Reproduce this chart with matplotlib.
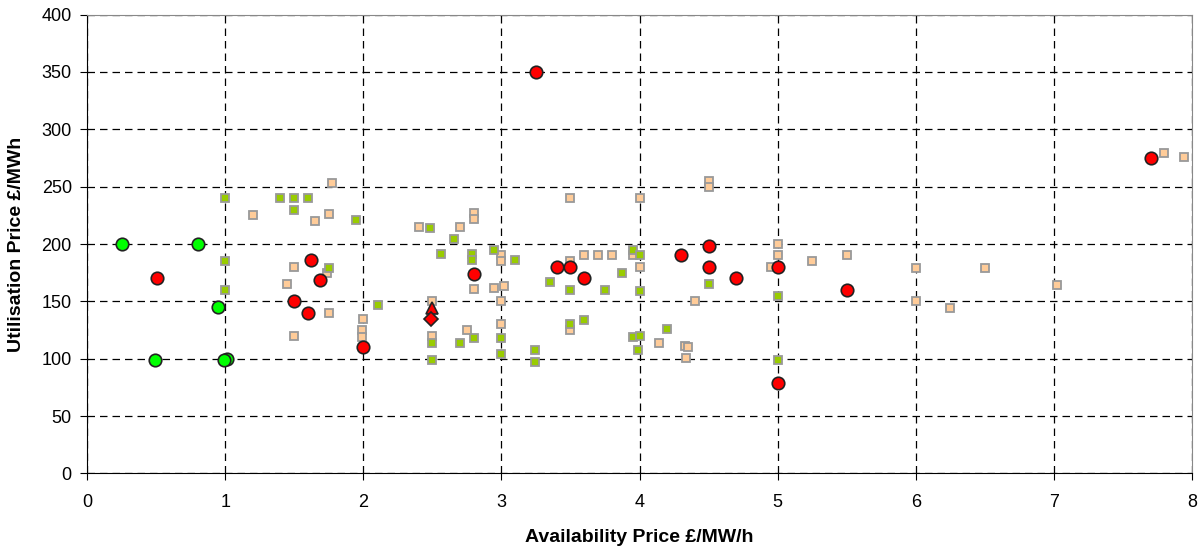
#!/usr/bin/env python3
"""Availability vs utilisation price scatter."""
import matplotlib
matplotlib.use("Agg")
import matplotlib.pyplot as plt

plt.rcParams["font.family"] = ["Liberation Sans", "DejaVu Sans"]

# tender offers (small squares)
tan_x = [1.20, 1.77, 1.75, 1.65, 1.50, 1.74, 1.45, 1.75, 1.50, 2.00, 1.99, 1.99,
         3.50, 4.00, 2.40, 2.70, 2.80, 2.80, 3.00, 3.00, 3.50, 3.60, 3.70, 3.80,
         3.95, 4.00, 2.80, 2.95, 3.02, 2.50, 3.00, 3.00, 3.50, 2.50, 2.75, 4.14,
         4.50, 4.50, 5.00, 5.00, 5.25, 5.50, 4.95, 4.40, 4.33, 4.35, 4.34,
         7.80, 7.94, 6.00, 6.50, 6.00, 6.25, 7.02]
tan_y = [225, 253, 226, 220, 180, 175, 165, 140, 120, 135, 125, 119,
         240, 240, 215, 215, 227, 222, 190, 185, 185, 190, 190, 190,
         190, 180, 161, 162, 163, 150, 150, 130, 125, 120, 125, 114,
         255, 250, 200, 190, 185, 190, 180, 150, 111, 110, 101,
         279, 276, 179, 179, 150, 144, 164]

green_sq_x = [1.00, 1.40, 1.50, 1.60, 1.50, 1.95, 1.00, 1.75, 1.00, 2.11,
              2.48, 2.66, 2.56, 2.79, 2.79, 2.95, 3.10, 3.95, 4.00, 3.87,
              3.35, 3.50, 3.75, 4.00, 3.50, 3.60, 2.50, 2.80, 2.70, 3.00,
              2.50, 3.00, 3.24, 3.24, 3.95, 4.00, 3.99, 4.20, 4.50, 5.00, 5.00]
green_sq_y = [240, 240, 240, 240, 230, 221, 185, 179, 160, 147,
              214, 204, 191, 191, 186, 195, 186, 195, 190, 175,
              167, 160, 160, 159, 130, 134, 114, 118, 114, 118,
              99, 104, 108, 97, 119, 120, 108, 126, 165, 155, 99]

# accepted offers (large circles)
red_x = [0.51, 1.50, 1.60, 1.62, 1.69, 2.00, 2.80, 3.25, 3.40, 3.50, 3.60,
         4.30, 4.50, 4.50, 4.70, 5.00, 5.00, 5.50, 7.70]
red_y = [170, 150, 140, 186, 169, 110, 174, 350, 180, 180, 170,
         190, 198, 180, 170, 180, 79, 160, 275]

green_x = [0.25, 0.80, 0.95, 0.49, 1.01, 0.99]
green_y = [200, 200, 145, 99, 100, 99]

tri_x, tri_y = [2.50], [144]
dia_x, dia_y = [2.49], [135]

fig = plt.figure(figsize=(12.04, 5.54), dpi=100)
ax = fig.add_axes([0.0723, 0.1455, 0.9177, 0.8281])

sq = dict(linestyle="none", marker="s", markersize=5.2, markeredgewidth=1.3,
          markeredgecolor="#999999", zorder=3)
ax.plot(tan_x, tan_y, markerfacecolor="#FFCC99", **sq)
ax.plot(green_sq_x, green_sq_y, markerfacecolor="#99CC00", **sq)

big = dict(linestyle="none", markeredgecolor="#222222", markeredgewidth=1.2, zorder=4)
ax.plot(red_x, red_y, marker="o", markersize=9, markerfacecolor="#FF0000", **big)
ax.plot(green_x, green_y, marker="o", markersize=9, markerfacecolor="#00FF00", **big)
ax.plot(tri_x, tri_y, marker="^", markersize=9, markerfacecolor="#FF0000", **big)
ax.plot(dia_x, dia_y, marker="D", markersize=7.5, markerfacecolor="#FF0000", **big)

ax.set_xlim(0, 8)
ax.set_ylim(0, 400)
ax.set_xticks(range(0, 9))
ax.set_yticks(range(0, 401, 50))
ax.grid(True, color="black", linestyle=(0, (6, 4)), linewidth=0.9)
ax.set_axisbelow(True)

ax.spines["left"].set_color("black")
ax.spines["bottom"].set_color("black")
ax.spines["top"].set_color("#888888")
ax.spines["right"].set_color("#888888")
ax.tick_params(direction="out", length=5, labelsize=13, colors="black")
ax.tick_params(axis="x", pad=10)
ax.tick_params(axis="y", pad=6)

ax.set_xlabel("Availability Price £/MW/h", fontsize=14, fontweight="bold")
ax.set_ylabel("Utilisation Price £/MWh", fontsize=14, fontweight="bold")
ax.xaxis.set_label_coords(0.5, -0.122)
ax.yaxis.set_label_coords(-0.056, 0.5)

fig.savefig("out.png", dpi=100)
